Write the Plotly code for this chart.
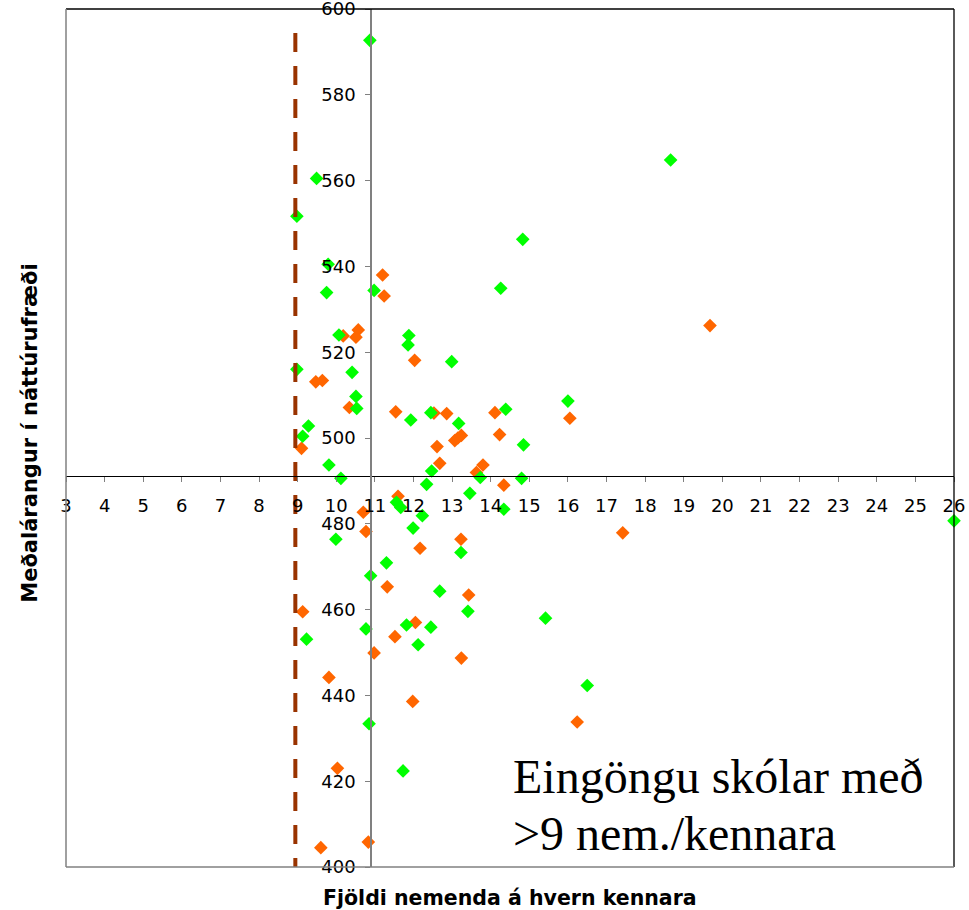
import plotly.graph_objects as go

# ---- data ----
green_x = [10.87, 9.49, 8.98, 9.79, 9.75, 10.98, 18.66, 14.83, 14.26, 10.07,
           11.88, 11.86, 8.98, 10.41, 12.99, 10.51, 10.53, 9.13, 9.28, 11.93,
           12.45, 13.17, 14.39, 16.0, 14.85, 9.81, 10.12, 12.47, 12.34, 13.46,
           13.73, 14.8, 14.34, 11.56, 11.67, 12.23, 11.99, 9.99, 13.23, 11.3,
           10.89, 12.68, 13.41, 15.42, 16.5, 9.23, 10.77, 11.82, 12.12, 12.45,
           10.85, 11.73, 26.0]
green_y = [592.7, 560.5, 551.7, 540.5, 533.9, 534.4, 564.8, 546.3, 534.9, 524.0,
           523.9, 521.7, 516.0, 515.3, 517.8, 509.7, 506.9, 500.4, 502.8, 504.2,
           505.9, 503.4, 506.7, 508.6, 498.4, 493.7, 490.6, 492.3, 489.2, 487.1,
           490.8, 490.6, 483.4, 485.0, 483.8, 481.9, 479.0, 476.4, 473.3, 470.9,
           467.9, 464.3, 459.6, 458.0, 442.3, 453.1, 455.5, 456.4, 451.8, 455.9,
           433.4, 422.4, 480.7]

orange_x = [11.2, 11.24, 10.18, 10.57, 10.51, 12.03, 9.47, 9.64, 10.34, 11.54,
            9.1, 12.53, 12.86, 14.11, 16.05, 14.23, 13.07, 13.15, 13.24, 12.61,
            12.68, 13.8, 13.63, 14.34, 11.6, 10.7, 10.77, 12.17, 13.23, 11.32,
            13.43, 9.13, 12.05, 11.52, 10.98, 13.24, 9.81, 11.98, 10.03, 9.6,
            10.83, 19.68, 17.42, 16.24]
orange_y = [538.0, 533.1, 523.8, 525.2, 523.5, 518.1, 513.1, 513.4, 507.1, 506.1,
            497.6, 505.8, 505.7, 505.9, 504.6, 500.8, 499.4, 500.0, 500.6, 498.0,
            494.1, 493.7, 491.95, 489.0, 486.4, 482.7, 478.2, 474.3, 476.4, 465.3,
            463.4, 459.5, 457.0, 453.7, 449.9, 448.7, 444.2, 438.6, 423.0, 404.5,
            405.8, 526.2, 477.9, 433.8]

limit_x = [8.94, 8.94]
limit_y = [594.4, 400]

x_tick_vals = [3, 4, 5, 6, 7, 8, 9, 10, 11, 12, 13, 14, 15, 16, 17, 18, 19, 20,
               21, 22, 23, 24, 25, 26]
x_tick_text = ["3", "4", "5", "6", "7", "8", "9", "10", "11", "12", "13", "14",
               "15", "16", "17", "18", "19", "20", "21", "22", "23", "24", "25", "26"]
y_tick_vals = [400, 420, 440, 460, 480, 500, 520, 540, 560, 580, 600]
y_tick_text = ["400", "420", "440", "460", "480", "500", "520", "540", "560", "580", "600"]

x_cross = 10.9   # where the vertical axis crosses
y_cross = 491.1  # where the horizontal axis crosses
x_range = [3, 26]
y_range = [400, 600]

x_title = "Fjöldi nemenda á hvern kennara"
y_title = "Meðalárangur í náttúrufræði"
note_lines = ["Eingöngu skólar með", ">9 nem./kennara"]

# ---- figure ----
fig = go.Figure()
fig.add_trace(go.Scatter(x=orange_x, y=orange_y, mode="markers", cliponaxis=False,
                         marker=dict(symbol="diamond", size=10.5, color="#FF6600",
                                     line=dict(width=0)), hoverinfo="x+y"))
fig.add_trace(go.Scatter(x=green_x, y=green_y, mode="markers", cliponaxis=False,
                         marker=dict(symbol="diamond", size=10.5, color="#00FF00",
                                     line=dict(width=0)), hoverinfo="x+y"))
fig.add_trace(go.Scatter(x=limit_x, y=limit_y, mode="lines", cliponaxis=False,
                         line=dict(color="#993300", width=4, dash="19px,14px"),
                         hoverinfo="skip"))

tick_font = dict(family="DejaVu Sans", size=18, color="black")

fig.update_layout(
    width=969, height=910,
    margin=dict(l=66, r=15, t=9, b=43),
    plot_bgcolor="white", paper_bgcolor="white",
    showlegend=False,
    xaxis=dict(range=x_range, tickmode="array", tickvals=x_tick_vals,
               ticktext=x_tick_text, ticks="outside", ticklen=5,
               tickcolor="#808080", tickwidth=1, showline=True, linecolor="black",
               linewidth=1, showgrid=False, zeroline=False, anchor="free",
               position=(y_cross - y_range[0]) / (y_range[1] - y_range[0]),
               tickfont=tick_font, automargin=False, ticklabelstandoff=8,
               ticklabeloverflow="allow"),
    yaxis=dict(range=y_range, tickmode="array", tickvals=y_tick_vals,
               ticktext=y_tick_text, ticks="outside", ticklen=5,
               tickcolor="#808080", tickwidth=1, showline=True, linecolor="#808080",
               linewidth=1.5, showgrid=False, zeroline=False, anchor="free",
               position=(x_cross - x_range[0]) / (x_range[1] - x_range[0]),
               tickfont=tick_font, automargin=False, ticklabelstandoff=6,
               ticklabeloverflow="allow"),
    shapes=[
        dict(type="line", xref="paper", yref="paper", x0=0, x1=1, y0=1, y1=1,
             line=dict(color="black", width=1.3)),
        dict(type="line", xref="paper", yref="paper", x0=1, x1=1, y0=0, y1=1,
             line=dict(color="black", width=1.3)),
        dict(type="line", xref="paper", yref="paper", x0=0, x1=0, y0=0, y1=1,
             line=dict(color="#808080", width=1.5)),
        dict(type="line", xref="paper", yref="paper", x0=0, x1=1, y0=0, y1=0,
             line=dict(color="#808080", width=1.5)),
    ],
    annotations=[
        dict(text="<b>" + x_title + "</b>", xref="paper", yref="paper",
             x=0.5, y=-0.036, xanchor="center", yanchor="middle", showarrow=False,
             font=dict(family="DejaVu Sans", size=20.5, color="black")),
        dict(text="<b>" + y_title + "</b>", xref="paper", yref="paper",
             x=-0.0405, y=0.505, xanchor="center", yanchor="middle", showarrow=False,
             textangle=-90,
             font=dict(family="DejaVu Sans", size=21, color="black")),
        dict(text=note_lines[0], xref="paper", yref="paper",
             x=0.5015, y=0.105, xanchor="left", yanchor="middle", showarrow=False,
             font=dict(family="Liberation Serif", size=48, color="black")),
        dict(text=note_lines[1], xref="paper", yref="paper",
             x=0.5015, y=0.039, xanchor="left", yanchor="middle", showarrow=False,
             font=dict(family="Liberation Serif", size=48, color="black")),
    ],
)

fig.write_html("out.html", config={"displayModeBar": False},
               post_script="document.body.style.margin='0';")
